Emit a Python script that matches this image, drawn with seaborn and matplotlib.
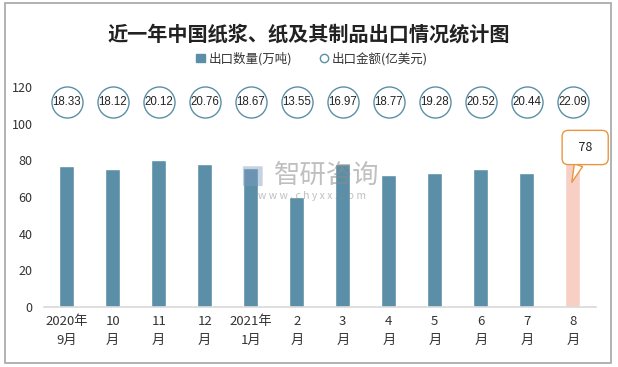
import numpy as np
import pandas as pd
import matplotlib.pyplot as plt
import matplotlib.patches as mpatches
from matplotlib.lines import Line2D
import seaborn as sns

months = ["2020年\n9月", "10\n月", "11\n月", "12\n月", "2021年\n1月", "2\n月",
          "3\n月", "4\n月", "5\n月", "6\n月", "7\n月", "8\n月"]
qty = [77, 75, 80, 78, 76, 60, 78, 72, 73, 75, 73, 78]
amount = [18.33, 18.12, 20.12, 20.76, 18.67, 13.55, 16.97, 18.77, 19.28, 20.52, 20.44, 22.09]

blue = "#5B8FA8"
pink = "#F8CFC5"

sns.set_theme(style="white")
plt.rcParams['font.family'] = ['Noto Sans CJK SC', 'DejaVu Sans']

df = pd.DataFrame({"month": months, "qty": qty})
colors = [blue] * (len(months) - 1) + [pink]

fig = plt.figure(figsize=(6.18, 3.67), dpi=100)
ax = fig.add_axes([0.0707, 0.1635, 0.8933, 0.5995])

sns.barplot(data=df, x="month", y="qty", hue="month", palette=colors,
            legend=False, width=0.33, ax=ax, saturation=1)

ax.set_ylim(0, 120)
ax.set_xlim(-0.5, len(months) - 0.5)
ax.set_yticks(range(0, 121, 20))
ax.tick_params(axis="y", labelsize=9, colors="#333333", pad=8, length=0)
ax.tick_params(axis="x", labelsize=9.5, colors="#333333", pad=6, length=0)
for lbl in ax.get_xticklabels():
    lbl.set_linespacing(1.6)
ax.set_xlabel("")
ax.set_ylabel("")
for s in ["top", "right", "left"]:
    ax.spines[s].set_visible(False)
ax.spines["bottom"].set_color("#D9D9D9")
ax.spines["bottom"].set_linewidth(1.2)

# amount circles on a row above the bars
trans = ax.get_xaxis_transform()
xs = np.arange(len(months))
ax.scatter(xs, [0.933] * len(xs), s=500, facecolor="white", edgecolor=blue,
           linewidth=1.0, transform=trans, zorder=3, clip_on=False)
for x, v in zip(xs, amount):
    ax.text(x, 0.933, f"{v:.2f}", transform=trans, ha="center", va="center",
            fontsize=8.3, color="#222222", zorder=4, family=['Liberation Sans', 'DejaVu Sans'])

# callout for the last bar
last = len(months) - 1
ax.annotate(f"  {qty[last]}  ", xy=(last - 0.02, qty[last] - 10), xytext=(last + 0.27, qty[last] + 9),
            ha="center", va="center", fontsize=9, color="#222222",
            bbox=dict(boxstyle="round,pad=0.85,rounding_size=0.5", fc="white", ec="#E8963F", lw=1),
            arrowprops=dict(arrowstyle="wedge,tail_width=0.7", fc="white", ec="#E8963F", lw=1,
                            shrinkA=0, shrinkB=0),
            annotation_clip=False, zorder=5)

# watermark
fig.patches.append(mpatches.FancyBboxPatch((0.395, 0.495), 0.028, 0.05, boxstyle="round,pad=0.002",
                                           transform=fig.transFigure, fc="#7E9CC0", ec="none", alpha=0.45))
fig.text(0.528, 0.522, "智研咨询", fontsize=19, color="#8C8C8C", alpha=0.55, ha="center", va="center")
fig.text(0.505, 0.465, "w w w . c h y x x . c o m", fontsize=7.5, color="#8C8C8C", alpha=0.55,
         ha="center", va="center")

fig.suptitle("近一年中国纸浆、纸及其制品出口情况统计图", y=0.935, fontsize=14.5,
             fontweight="bold", color="#222222")

handles = [mpatches.Patch(color=blue, label="出口数量(万吨)"),
           Line2D([0], [0], marker="o", linestyle="", markerfacecolor="white",
                  markeredgecolor=blue, markersize=6, label="出口金额(亿美元)")]
fig.legend(handles=handles, loc="center", bbox_to_anchor=(0.505, 0.84), ncol=2,
           frameon=False, fontsize=9, handlelength=0.7, handleheight=0.7,
           handletextpad=0.3, columnspacing=2.2, labelcolor="#333333")

fig.patches.append(mpatches.Rectangle((0.008, 0.01), 0.981, 0.981, transform=fig.transFigure,
                                      fill=False, ec="#A6A6A6", lw=1.2))

fig.savefig("out.png", dpi=100)
